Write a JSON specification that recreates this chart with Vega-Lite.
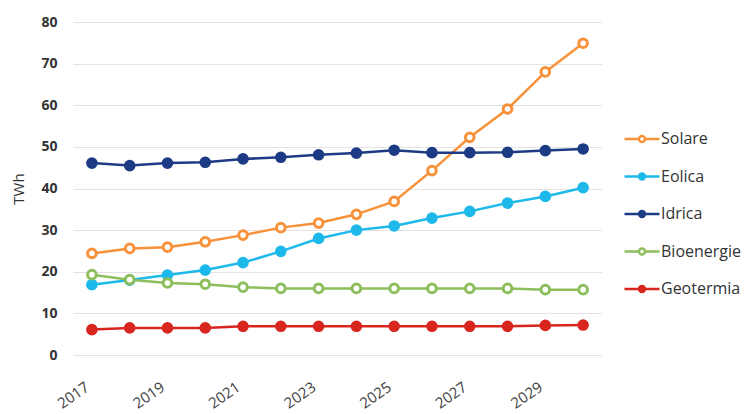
{
  "$schema": "https://vega.github.io/schema/vega-lite/v6.json",
  "width": 529,
  "height": 333,
  "autosize": {"type": "none"},
  "padding": {"left": 73, "top": 22, "right": 144, "bottom": 59},
  "background": "white",
  "config": {"view": {"stroke": null}, "font": "Open Sans"},
  "data": {"values": [
    {"anno": 2017, "fonte": "Solare", "twh": 24.4},
    {"anno": 2018, "fonte": "Solare", "twh": 25.6},
    {"anno": 2019, "fonte": "Solare", "twh": 25.9},
    {"anno": 2020, "fonte": "Solare", "twh": 27.2},
    {"anno": 2021, "fonte": "Solare", "twh": 28.8},
    {"anno": 2022, "fonte": "Solare", "twh": 30.6},
    {"anno": 2023, "fonte": "Solare", "twh": 31.7},
    {"anno": 2024, "fonte": "Solare", "twh": 33.8},
    {"anno": 2025, "fonte": "Solare", "twh": 36.9},
    {"anno": 2026, "fonte": "Solare", "twh": 44.3},
    {"anno": 2027, "fonte": "Solare", "twh": 52.3},
    {"anno": 2028, "fonte": "Solare", "twh": 59.1},
    {"anno": 2029, "fonte": "Solare", "twh": 68.0},
    {"anno": 2030, "fonte": "Solare", "twh": 74.9},
    {"anno": 2017, "fonte": "Eolica", "twh": 16.9},
    {"anno": 2018, "fonte": "Eolica", "twh": 18.0},
    {"anno": 2019, "fonte": "Eolica", "twh": 19.2},
    {"anno": 2020, "fonte": "Eolica", "twh": 20.4},
    {"anno": 2021, "fonte": "Eolica", "twh": 22.2},
    {"anno": 2022, "fonte": "Eolica", "twh": 24.9},
    {"anno": 2023, "fonte": "Eolica", "twh": 28.0},
    {"anno": 2024, "fonte": "Eolica", "twh": 30.0},
    {"anno": 2025, "fonte": "Eolica", "twh": 31.0},
    {"anno": 2026, "fonte": "Eolica", "twh": 32.9},
    {"anno": 2027, "fonte": "Eolica", "twh": 34.5},
    {"anno": 2028, "fonte": "Eolica", "twh": 36.5},
    {"anno": 2029, "fonte": "Eolica", "twh": 38.1},
    {"anno": 2030, "fonte": "Eolica", "twh": 40.2},
    {"anno": 2017, "fonte": "Idrica", "twh": 46.1},
    {"anno": 2018, "fonte": "Idrica", "twh": 45.5},
    {"anno": 2019, "fonte": "Idrica", "twh": 46.1},
    {"anno": 2020, "fonte": "Idrica", "twh": 46.3},
    {"anno": 2021, "fonte": "Idrica", "twh": 47.1},
    {"anno": 2022, "fonte": "Idrica", "twh": 47.5},
    {"anno": 2023, "fonte": "Idrica", "twh": 48.1},
    {"anno": 2024, "fonte": "Idrica", "twh": 48.5},
    {"anno": 2025, "fonte": "Idrica", "twh": 49.2},
    {"anno": 2026, "fonte": "Idrica", "twh": 48.6},
    {"anno": 2027, "fonte": "Idrica", "twh": 48.6},
    {"anno": 2028, "fonte": "Idrica", "twh": 48.7},
    {"anno": 2029, "fonte": "Idrica", "twh": 49.1},
    {"anno": 2030, "fonte": "Idrica", "twh": 49.5},
    {"anno": 2017, "fonte": "Bioenergie", "twh": 19.3},
    {"anno": 2018, "fonte": "Bioenergie", "twh": 18.1},
    {"anno": 2019, "fonte": "Bioenergie", "twh": 17.3},
    {"anno": 2020, "fonte": "Bioenergie", "twh": 17.0},
    {"anno": 2021, "fonte": "Bioenergie", "twh": 16.3},
    {"anno": 2022, "fonte": "Bioenergie", "twh": 16.0},
    {"anno": 2023, "fonte": "Bioenergie", "twh": 16.0},
    {"anno": 2024, "fonte": "Bioenergie", "twh": 16.0},
    {"anno": 2025, "fonte": "Bioenergie", "twh": 16.0},
    {"anno": 2026, "fonte": "Bioenergie", "twh": 16.0},
    {"anno": 2027, "fonte": "Bioenergie", "twh": 16.0},
    {"anno": 2028, "fonte": "Bioenergie", "twh": 16.0},
    {"anno": 2029, "fonte": "Bioenergie", "twh": 15.7},
    {"anno": 2030, "fonte": "Bioenergie", "twh": 15.7},
    {"anno": 2017, "fonte": "Geotermia", "twh": 6.1},
    {"anno": 2018, "fonte": "Geotermia", "twh": 6.5},
    {"anno": 2019, "fonte": "Geotermia", "twh": 6.5},
    {"anno": 2020, "fonte": "Geotermia", "twh": 6.5},
    {"anno": 2021, "fonte": "Geotermia", "twh": 6.9},
    {"anno": 2022, "fonte": "Geotermia", "twh": 6.9},
    {"anno": 2023, "fonte": "Geotermia", "twh": 6.9},
    {"anno": 2024, "fonte": "Geotermia", "twh": 6.9},
    {"anno": 2025, "fonte": "Geotermia", "twh": 6.9},
    {"anno": 2026, "fonte": "Geotermia", "twh": 6.9},
    {"anno": 2027, "fonte": "Geotermia", "twh": 6.9},
    {"anno": 2028, "fonte": "Geotermia", "twh": 6.9},
    {"anno": 2029, "fonte": "Geotermia", "twh": 7.1},
    {"anno": 2030, "fonte": "Geotermia", "twh": 7.2}
  ]},
  "encoding": {
    "x": {
      "field": "anno", "type": "quantitative",
      "scale": {"domain": [2016.5, 2030.5], "nice": false, "zero": false},
      "axis": {
        "title": null, "values": [2017, 2019, 2021, 2023, 2025, 2027, 2029],
        "format": "d", "grid": false, "ticks": false, "domain": false,
        "labelAngle": -35, "labelAlign": "right", "labelBaseline": "middle",
        "labelFontSize": 15, "labelColor": "#404040", "labelPadding": 30, "labelOffset": -5
      }
    },
    "y": {
      "field": "twh", "type": "quantitative",
      "scale": {"domain": [0, 80], "nice": false},
      "axis": {
        "title": "TWh", "titleFontSize": 15, "titleFontWeight": "normal", "titleColor": "#333333",
        "titlePadding": 14, "values": [0, 10, 20, 30, 40, 50, 60, 70, 80],
        "ticks": false, "domain": false, "gridColor": "#e3e3e3", "gridWidth": 1,
        "labelFontSize": 14, "labelFontWeight": "bold", "labelColor": "#333333", "labelPadding": 16
      }
    },
    "color": {
      "field": "fonte", "type": "nominal",
      "scale": {
        "domain": ["Solare", "Eolica", "Idrica", "Bioenergie", "Geotermia"],
        "range": ["#f7913a", "#1db9ea", "#1d3b84", "#8cbf5c", "#d8261f"]
      },
      "legend": {
        "title": null, "orient": "none", "legendX": 550, "legendY": 98,
        "labelFontSize": 16, "labelColor": "#333333", "rowPadding": 10.5,
        "symbolType": "M-1,0 L-0.17,0 M0.17,0 L1,0 M-0.17,0 A0.17,0.17 0 1,0 0.17,0 A0.17,0.17 0 1,0 -0.17,0",
        "symbolSize": 1225, "symbolStrokeWidth": 2.5, "labelOffset": 0
      }
    }
  },
  "layer": [
    {"mark": {"type": "line", "strokeWidth": 2.5}},
    {
      "mark": {"type": "point", "shape": "circle", "filled": false, "size": 75, "strokeWidth": 3, "opacity": 1},
      "encoding": {
        "fill": {
          "field": "fonte", "type": "nominal", "legend": null,
          "scale": {
            "domain": ["Solare", "Eolica", "Idrica", "Bioenergie", "Geotermia"],
            "range": ["#ffffff", "#1db9ea", "#1d3b84", "#ffffff", "#d8261f"]
          }
        }
      }
    }
  ]
}
